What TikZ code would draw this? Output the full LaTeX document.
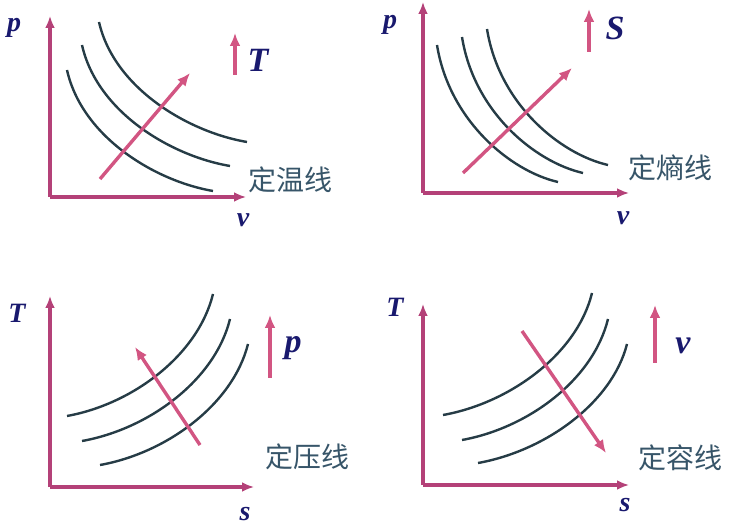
\documentclass[tikz,border=0pt]{standalone}
\usepackage{fontspec}
\usepackage{tikz}
\usetikzlibrary{arrows.meta,positioning,calc}
\newfontfamily\cjk{Noto Sans CJK SC}
\newfontfamily\lbl{Liberation Serif}
\definecolor{axiscol}{RGB}{180,65,120}
\definecolor{arrcol}{RGB}{210,85,130}
\definecolor{curvecol}{RGB}{38,60,70}
\definecolor{varcol}{RGB}{25,25,110}
\definecolor{namecol}{RGB}{55,85,105}

\begin{document}
\begin{tikzpicture}[x=1pt, y=1pt,
  axis/.style={draw=axiscol, line width=3.3pt, -{Latex[length=12pt,width=10pt]}},
  iso/.style={draw=curvecol, line width=2.4pt},
  dirarrow/.style={draw=arrcol, line width=3.4pt, -{Latex[length=13pt,width=11pt]}},
  axlabel/.style={font=\lbl\bfseries\itshape\fontsize{28}{28}\selectfont, text=varcol, inner sep=0pt},
  parlabel/.style={font=\lbl\bfseries\itshape\fontsize{34}{34}\selectfont, text=varcol, inner sep=0pt},
  linename/.style={font=\cjk\fontsize{28}{28}\selectfont, text=namecol, inner sep=0pt}]
  \useasboundingbox (0,0) rectangle (730,530);

  % p-v: isotherms
  \coordinate (O1) at (50,333);
  \coordinate (Y1) at (50,514);
  \coordinate (X1) at (246,333);
  \draw[axis] (O1) -- (Y1);
  \draw[axis] (O1) -- (X1);
  \node[axlabel] (p1) at (14,502) {p};
  \node[axlabel] (v1) at (243,310) {v};
  \draw[iso] (67,460) .. controls (82,393) and (155,349) .. (213,339);
  \draw[iso] (82,485) .. controls (97,418) and (171,374) .. (230,364);
  \draw[iso] (99,508) .. controls (114,442) and (188,398) .. (247,388);
  \coordinate (a1s) at (100,351);
  \coordinate (a1e) at (190,457);
  \draw[dirarrow] (a1s) -- (a1e);
  \coordinate (u1s) at (235,455);
  \coordinate (u1e) at (235,497);
  \draw[dirarrow] (u1s) -- (u1e);
  \node[parlabel] (T1) at (258,470) {T};
  \node[linename] (n1) at (290,350) {定温线};

  % p-v: isentropes
  \coordinate (O2) at (423,337);
  \coordinate (Y2) at (423,528);
  \coordinate (X2) at (629,337);
  \draw[axis] (O2) -- (Y2);
  \draw[axis] (O2) -- (X2);
  \node[axlabel] (p2) at (390,505) {p};
  \node[axlabel] (v2) at (623,312) {v};
  \draw[iso] (437,485) .. controls (449,410) and (510,359) .. (558,348);
  \draw[iso] (462,493) .. controls (474,418) and (535,368) .. (583,357);
  \draw[iso] (487,501) .. controls (499,426) and (560,376) .. (608,365);
  \coordinate (a2s) at (463,357);
  \coordinate (a2e) at (572,462);
  \draw[dirarrow] (a2s) -- (a2e);
  \coordinate (u2s) at (589,478);
  \coordinate (u2e) at (589,521);
  \draw[dirarrow] (u2s) -- (u2e);
  \node[parlabel] (S2) at (615,502) {S};
  \node[linename] (n2) at (670,362) {定熵线};

  % T-s: isobars
  \coordinate (O3) at (50,43);
  \coordinate (Y3) at (50,234);
  \coordinate (X3) at (254,43);
  \draw[axis] (O3) -- (Y3);
  \draw[axis] (O3) -- (X3);
  \node[axlabel] (T3) at (17,217) {T};
  \node[axlabel] (s3) at (245,16) {s};
  \draw[iso] (67,114) .. controls (133,126) and (198,175) .. (213,236);
  \draw[iso] (82,89) .. controls (149,101) and (215,150) .. (230,211);
  \draw[iso] (100,65) .. controls (167,77) and (233,126) .. (248,186);
  \coordinate (a3s) at (200,85);
  \coordinate (a3e) at (135,183);
  \draw[dirarrow] (a3s) -- (a3e);
  \coordinate (u3s) at (270,152);
  \coordinate (u3e) at (270,215);
  \draw[dirarrow] (u3s) -- (u3e);
  \node[parlabel] (p3) at (293,182) {p};
  \node[linename] (n3) at (307,73) {定压线};

  % T-s: isochores
  \coordinate (O4) at (423,45);
  \coordinate (Y4) at (423,226);
  \coordinate (X4) at (629,45);
  \draw[axis] (O4) -- (Y4);
  \draw[axis] (O4) -- (X4);
  \node[axlabel] (T4) at (395,223) {T};
  \node[axlabel] (s4) at (625,25) {s};
  \draw[iso] (443,115) .. controls (510,127) and (577,176) .. (592,237);
  \draw[iso] (462,90) .. controls (528,102) and (593,150) .. (608,211);
  \draw[iso] (478,67) .. controls (545,79) and (612,127) .. (627,186);
  \coordinate (a4s) at (522,199);
  \coordinate (a4e) at (606,77);
  \draw[dirarrow] (a4s) -- (a4e);
  \coordinate (u4s) at (655,167);
  \coordinate (u4e) at (655,225);
  \draw[dirarrow] (u4s) -- (u4e);
  \node[parlabel] (v4) at (683,184) {v};
  \node[linename] (n4) at (680,72) {定容线};
\end{tikzpicture}
\end{document}
